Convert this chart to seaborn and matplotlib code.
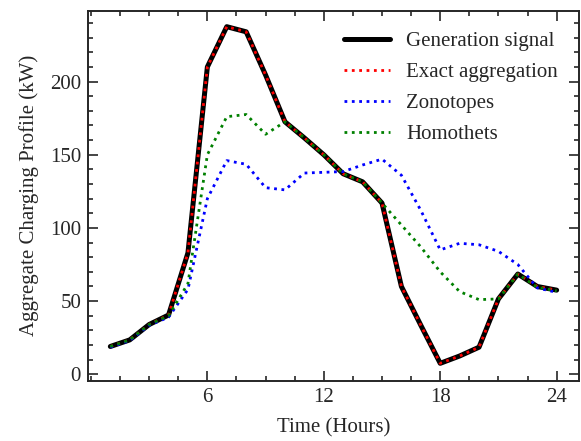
import numpy as np
import pandas as pd
import seaborn as sns

import matplotlib
matplotlib.use('Agg')
import matplotlib.pyplot as plt
from matplotlib.ticker import MultipleLocator

# hourly values
hours = list(range(1, 25))
generation = [19, 23.5, 34, 40.5, 83, 210, 237.5, 234, 204.5, 172.5, 161.5, 150,
              137, 131.5, 117, 60, 33.5, 7.5, 12.5, 18.5, 51.5, 68.5, 60, 57.5]
exact = list(generation)
zonotopes = [18.5, 23, 33.5, 39, 58, 120, 146, 143.5, 127.5, 126, 137.5, 138,
             138.5, 143, 147, 136, 112, 85, 89.5, 88.5, 84, 75, 59, 56]
homothets = [19, 23.5, 34, 40, 62, 150, 176, 177.5, 164, 172.5, 161.5, 150,
             137, 131.5, 117, 102, 87, 70, 56.5, 51, 51.5, 68.5, 59.5, 57]

labels = ['Generation signal', 'Exact aggregation', 'Zonotopes', 'Homothets']

df = pd.DataFrame({'hour': hours, 'gen': generation, 'exact': exact,
                   'zono': zonotopes, 'homo': homothets})

sns.set_style('ticks')
plt.rcParams['font.family'] = ['Liberation Serif', 'DejaVu Serif']
plt.rcParams['font.size'] = 15

fig = plt.figure(figsize=(5.81, 4.41), dpi=100)
ax = fig.add_axes([0.1515, 0.136, 0.845, 0.84])

sns.lineplot(data=df, x='hour', y='gen', ax=ax, color='k', linewidth=3.6,
             label=labels[0])
sns.lineplot(data=df, x='hour', y='exact', ax=ax, color='r', linewidth=2,
             linestyle=':', label=labels[1])
sns.lineplot(data=df, x='hour', y='zono', ax=ax, color='b', linewidth=2,
             linestyle=':', label=labels[2])
sns.lineplot(data=df, x='hour', y='homo', ax=ax, color='g', linewidth=2,
             linestyle=':', label=labels[3])

ax.set_xlim(-0.15, 25.15)
ax.set_ylim(-4.6, 248.5)
ax.xaxis.set_major_locator(MultipleLocator(6))
ax.xaxis.set_minor_locator(MultipleLocator(1.5))
ax.yaxis.set_major_locator(MultipleLocator(50))
ax.yaxis.set_minor_locator(MultipleLocator(10))
ax.set_xticks([6, 12, 18, 24])
ax.tick_params(which='both', direction='in', top=True, right=True,
               labelsize=15, width=1.2)
ax.tick_params(which='major', length=7, pad=5)
ax.tick_params(which='minor', length=3.5)
for s in ax.spines.values():
    s.set_linewidth(1.4)

ax.set_xlabel('Time (Hours)', fontsize=15, labelpad=8)
ax.set_ylabel('Aggregate Charging Profile (kW)', fontsize=15, labelpad=8)
ax.legend(loc='upper right', frameon=False, fontsize=15, handlelength=2.2,
          labelspacing=0.55, borderaxespad=0.6)

fig.savefig('out.png', dpi=100)
